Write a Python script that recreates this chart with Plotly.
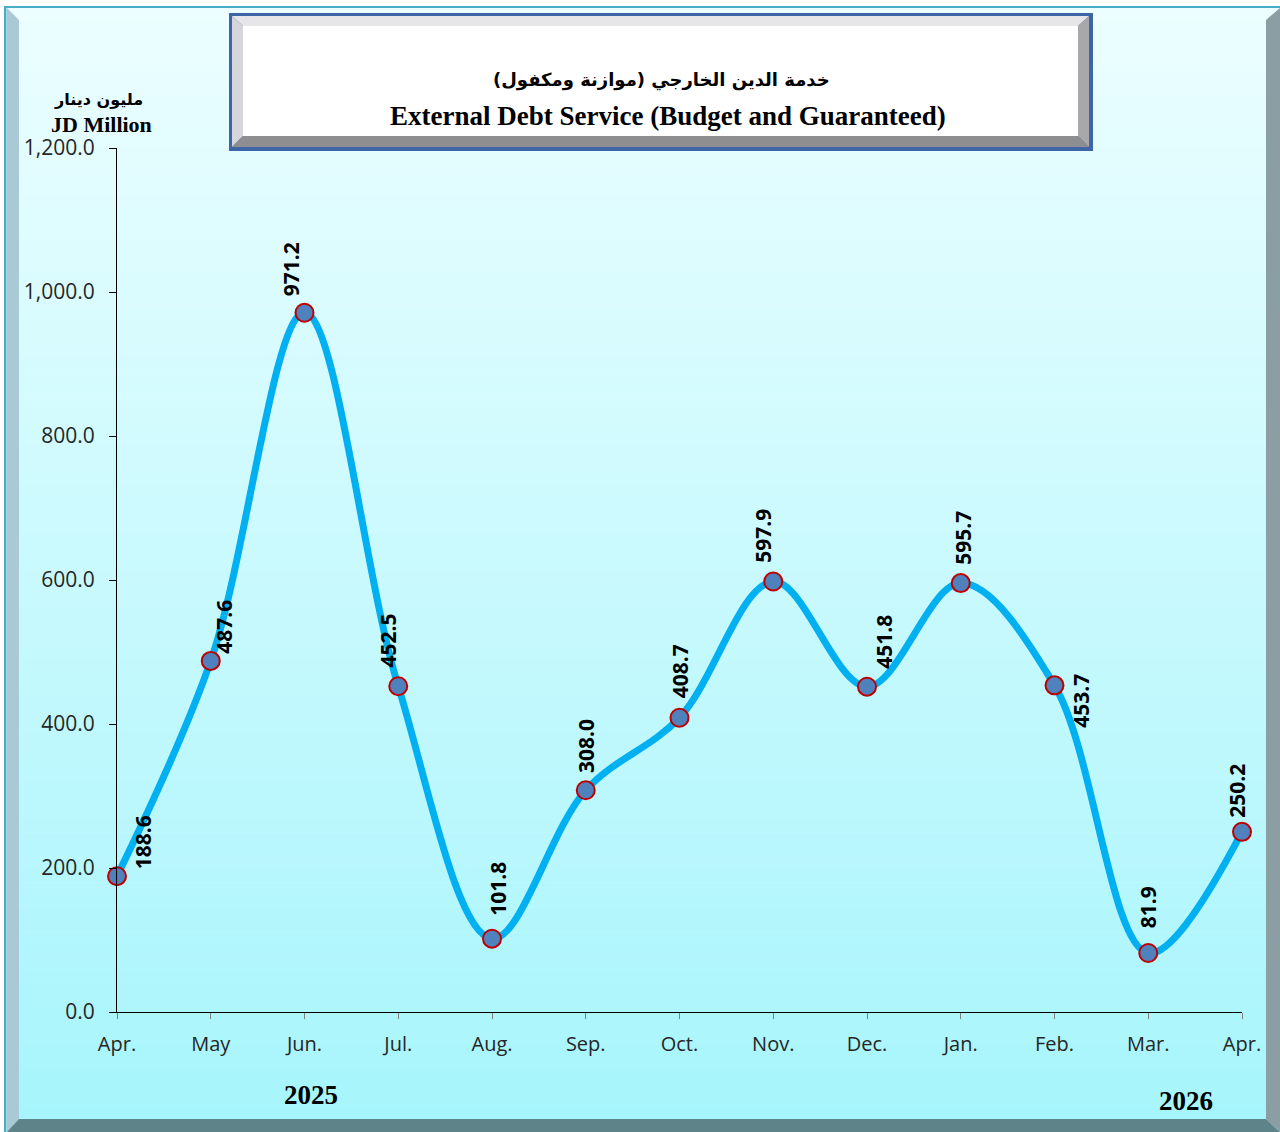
import plotly.graph_objects as go

# Monthly external debt service (budget and guaranteed), JD million
months = ["Apr.", "May", "Jun.", "Jul.", "Aug.", "Sep.", "Oct.", "Nov.", "Dec.",
          "Jan.", "Feb.", "Mar.", "Apr."]
debt_service = [188.6, 487.6, 971.2, 452.5, 101.8, 308.0, 408.7, 597.9, 451.8,
                595.7, 453.7, 81.9, 250.2]
y_ticks = [0, 200, 400, 600, 800, 1000, 1200]

# pixel offsets of each rotated value label relative to its marker
label_dx = [26, 13, -14, -10, 6, 0, 0, -11, 17, 2, 27, 0, -5]
label_dy = [-34, -34, -43, -46, -50, -44, -46, -46, -45, -45, 16, -46, -41]

W, H = 1280, 1132
L, R, T, B = 117, 38, 148, 120
PW, PH = W - L - R, H - T - B


def px(x):
    return (x - L) / PW


def py(y):
    return (H - B - y) / PH


def hexmix(c1, c2, t):
    a = [int(c1[i:i + 2], 16) for i in (1, 3, 5)]
    b = [int(c2[i:i + 2], 16) for i in (1, 3, 5)]
    return "rgb({},{},{})".format(*[round(a[k] + (b[k] - a[k]) * t) for k in range(3)])


def rect(x0, y0, x1, y1, color):
    return dict(type="rect", xref="paper", yref="paper", layer="below",
                x0=px(x0), x1=px(x1), y0=py(y0), y1=py(y1),
                fillcolor=color, line=dict(width=0))


def poly(pts, color):
    d = "M " + " L ".join(f"{px(a):.5f},{py(b):.5f}" for a, b in pts) + " Z"
    return dict(type="path", xref="paper", yref="paper", layer="below",
                path=d, fillcolor=color, line=dict(width=0))


shapes = []

# chart area background: vertical gradient
top, bottom = 8, 1132
n = 90
step = (bottom - top) / n
for i in range(n):
    shapes.append(rect(7, top + i * step, W, top + (i + 1) * step + 0.6,
                       hexmix("#ECFEFF", "#A6F5FC", i / (n - 1))))

# frame bevels and edge lines
shapes.append(poly([(7, 8), (19, 20), (19, 1119), (7, 1132)], "#A9CAD5"))
shapes.append(poly([(7, 1132), (19, 1119), (1266, 1119), (1280, 1132)], "#5E8388"))
shapes.append(poly([(1266, 20), (1280, 8), (1280, 1132), (1266, 1119)], "#8A9EA3"))
shapes.append(rect(4, 7, 6.5, 1132, "#4BACC6"))
shapes.append(rect(4, 6, 1280, 8, "#4BACC6"))

# title box with bevelled edges
shapes.append(rect(229, 13, 1093, 151, "#3F65A9"))
shapes.append(poly([(232, 16), (1089, 16), (1078, 26), (243, 26)], "#E6E6E8"))
shapes.append(poly([(232, 16), (243, 26), (243, 136), (232, 147)], "#D5D5DA"))
shapes.append(poly([(1089, 16), (1089, 147), (1078, 136), (1078, 26)], "#A8A8AA"))
shapes.append(poly([(232, 147), (243, 136), (1078, 136), (1089, 147)], "#8E8E90"))
shapes.append(rect(243, 26, 1078, 136, "#FFFFFF"))

x_idx = list(range(len(months)))

fig = go.Figure()
fig.add_trace(go.Scatter(
    x=x_idx, y=debt_service, mode="lines+markers",
    line=dict(color="#00B0F0", width=7, shape="spline", smoothing=1.0),
    marker=dict(size=18, color="#4F81BD", line=dict(color="#C00000", width=2)),
    cliponaxis=False, hoverinfo="skip", showlegend=False,
))

annotations = []
for i, v in enumerate(debt_service):
    annotations.append(dict(
        x=i, y=v, xref="x", yref="y", text=f"{v:.1f}", showarrow=False,
        textangle=-90, xanchor="center", yanchor="middle",
        xshift=label_dx[i], yshift=-label_dy[i],
        font=dict(family="Open Sans", size=21, color="#000000", weight="bold"),
    ))


def ptext(text, x, y, family, size, bold=True):
    return dict(text=text, x=px(x), y=py(y), xref="paper", yref="paper",
                showarrow=False, xanchor="center", yanchor="middle",
                font=dict(family=family, size=size, color="#000000",
                          weight="bold" if bold else "normal"))


annotations += [
    ptext("خدمة الدين الخارجي (موازنة ومكفول)", 661, 80, "DejaVu Sans", 18),
    ptext("External Debt Service (Budget and Guaranteed)", 668, 116,
          "Liberation Serif", 27),
    ptext("مليون دينار", 98, 100, "DejaVu Sans", 16),
    ptext("JD Million", 101, 125, "Liberation Serif", 22),
    ptext("2025", 311, 1095, "Liberation Serif", 27),
    ptext("2026", 1186, 1101, "Liberation Serif", 27),
]

fig.update_layout(
    width=W, height=H,
    margin=dict(l=L, r=R, t=T, b=B, pad=0),
    paper_bgcolor="#FFFFFF",
    plot_bgcolor="rgba(0,0,0,0)",
    shapes=shapes,
    annotations=annotations,
    xaxis=dict(
        range=[0, 12], tickmode="array", tickvals=x_idx, ticktext=months,
        showgrid=False, zeroline=False, showline=True, linecolor="#000000",
        linewidth=1, ticks="outside", ticklen=6, tickcolor="#7F7F7F",
        ticklabelstandoff=8,
        tickfont=dict(family="Open Sans", size=20, color="#262626"),
        fixedrange=True,
    ),
    yaxis=dict(
        range=[0, 1200], tickmode="array", tickvals=y_ticks,
        ticktext=[f"{v:,.1f}" for v in y_ticks],
        showgrid=False, zeroline=False, showline=True, linecolor="#000000",
        linewidth=1, ticks="outside", ticklen=7, tickcolor="#000000",
        ticklabelstandoff=10,
        tickfont=dict(family="Open Sans", size=21, color="#262626"),
        fixedrange=True,
    ),
)

fig.write_html("out.html", config={"displayModeBar": False})
